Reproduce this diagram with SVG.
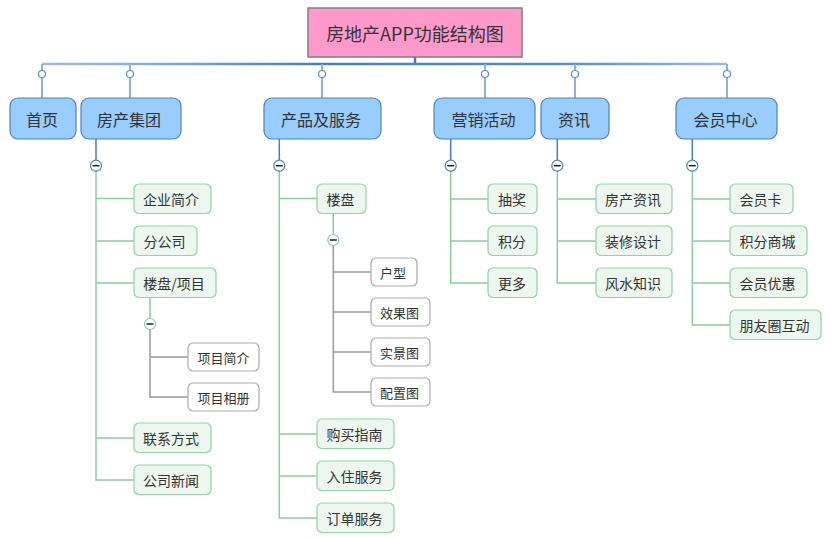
<svg xmlns="http://www.w3.org/2000/svg" width="831" height="538" viewBox="0 0 831 538">
<defs>
<linearGradient id="topg" x1="42" y1="0" x2="727" y2="0" gradientUnits="userSpaceOnUse">
<stop offset="0" stop-color="#9bbadf"/>
<stop offset="0.13" stop-color="#8fb0d8"/>
<stop offset="0.4" stop-color="#4a7ebb"/>
<stop offset="0.75" stop-color="#5a8bc4"/>
<stop offset="1" stop-color="#9bbadf"/>
</linearGradient>
<style>
text{font-family:"Noto Sans CJK SC","Microsoft YaHei",sans-serif;fill:#333;dominant-baseline:central;text-anchor:middle}
.root rect{fill:#ff99cc;stroke:#7f7f7f;stroke-width:1.5}
.root text{font-size:18px}
.l1 rect{fill:#99ccff;stroke:#4f81bd;stroke-width:1.2}
.l1 text{font-size:16px}
.l2 rect{fill:#edf6ef;stroke:#92d3a6;stroke-width:1.2}
.l2 text{font-size:14px}
.l3 rect{fill:#fff;stroke:#ababab;stroke-width:1.2}
.l3 text{font-size:13px}
.stem{stroke:#8fb0d8;stroke-width:2;fill:none}
.blue{stroke:#4a7ebb;stroke-width:1.5;fill:none}
.green{stroke:#8ccc9f;stroke-width:1.5;fill:none}
.gray{stroke:#9a9a9a;stroke-width:1.5;fill:none}
.dot{fill:#fff;stroke:#5b8ec8;stroke-width:1.2}
.cb{fill:#fff;stroke:#4a7ebb;stroke-width:1.2}
.cg{fill:#fff;stroke:#8ccc9f;stroke-width:1.2}
.minus{stroke:#222;stroke-width:1.5}
</style>
</defs>
<g id="connectors">
<line x1="415" y1="57" x2="415" y2="64" stroke="#4a7ebb" stroke-width="2.5"/>
<line x1="42" y1="64" x2="727" y2="64" stroke="url(#topg)" stroke-width="2.5"/>
<line class="stem" x1="42" y1="64" x2="42" y2="98"/>
<line class="stem" x1="130" y1="64" x2="130" y2="98"/>
<line class="stem" x1="322" y1="64" x2="322" y2="98"/>
<line class="stem" x1="485" y1="64" x2="485" y2="98"/>
<line class="stem" x1="575" y1="64" x2="575" y2="98"/>
<line class="stem" x1="727" y1="64" x2="727" y2="98"/>
<circle class="dot" cx="42" cy="74" r="3.5"/>
<circle class="dot" cx="130" cy="74" r="3.5"/>
<circle class="dot" cx="322" cy="74" r="3.5"/>
<circle class="dot" cx="485" cy="74" r="3.5"/>
<circle class="dot" cx="575" cy="74" r="3.5"/>
<circle class="dot" cx="727" cy="74" r="3.5"/>
<!-- 房产集团 -->
<line class="blue" x1="96" y1="139" x2="96" y2="160"/>
<path class="green" d="M96 171V480H134M96 198.5H134M96 241H134M96 283H134M96 438H134"/>
<line class="green" x1="150" y1="298" x2="150" y2="318"/>
<path class="gray" d="M150 330V397H188M150 357H188"/>
<circle class="cb" cx="96" cy="165.7" r="5.5"/><line class="minus" x1="92.5" y1="165.7" x2="99.5" y2="165.7"/>
<circle class="cg" cx="150" cy="324" r="5.5"/><line class="minus" x1="146.5" y1="324" x2="153.5" y2="324"/>
<!-- 产品及服务 -->
<line class="blue" x1="279.3" y1="139" x2="279.3" y2="160"/>
<path class="green" d="M279.3 171V518H317M279.3 198.5H317M279.3 434H317M279.3 476H317"/>
<line class="green" x1="333.3" y1="213" x2="333.3" y2="234.5"/>
<path class="gray" d="M333.3 245.5V392H371M333.3 272H371M333.3 312H371M333.3 352H371"/>
<circle class="cb" cx="279.3" cy="165.7" r="5.5"/><line class="minus" x1="275.8" y1="165.7" x2="282.8" y2="165.7"/>
<circle class="cg" cx="333.3" cy="240" r="5.5"/><line class="minus" x1="329.8" y1="240" x2="336.8" y2="240"/>
<!-- 营销活动 -->
<line class="blue" x1="450.7" y1="139" x2="450.7" y2="160"/>
<path class="green" d="M450.7 171V283H488M450.7 199H488M450.7 241H488"/>
<circle class="cb" cx="450.7" cy="165.7" r="5.5"/><line class="minus" x1="447.2" y1="165.7" x2="454.2" y2="165.7"/>
<!-- 资讯 -->
<line class="blue" x1="557.3" y1="139" x2="557.3" y2="160"/>
<path class="green" d="M557.3 171V283H596M557.3 199H596M557.3 241H596"/>
<circle class="cb" cx="557.3" cy="165.7" r="5.5"/><line class="minus" x1="553.8" y1="165.7" x2="560.8" y2="165.7"/>
<!-- 会员中心 -->
<line class="blue" x1="692.3" y1="139" x2="692.3" y2="160"/>
<path class="green" d="M692.3 171V325H730M692.3 199H730M692.3 241H730M692.3 283H730"/>
<circle class="cb" cx="692.3" cy="165.7" r="5.5"/><line class="minus" x1="688.8" y1="165.7" x2="695.8" y2="165.7"/>
</g>
<g id="root" class="root"><rect x="308" y="8" width="214" height="49"/><text x="415" y="33">房地产APP功能结构图</text></g>
<g id="n-shouye" class="l1"><rect x="10" y="98" width="66" height="41" rx="8"/><text x="42" y="118.5">首页</text></g>
<g id="n-fangchanjituan" class="l1"><rect x="81" y="98" width="100" height="41" rx="8"/><text x="129" y="118.5">房产集团</text></g>
<g id="n-chanpin" class="l1"><rect x="264" y="98" width="117" height="41" rx="8"/><text x="321" y="118.5">产品及服务</text></g>
<g id="n-yingxiao" class="l1"><rect x="434" y="98" width="101" height="41" rx="8"/><text x="483.5" y="118.5">营销活动</text></g>
<g id="n-zixun" class="l1"><rect x="541" y="98" width="68" height="41" rx="8"/><text x="574" y="118.5">资讯</text></g>
<g id="n-huiyuan" class="l1"><rect x="676" y="98" width="101" height="41" rx="8"/><text x="725.5" y="118.5">会员中心</text></g>

<g id="n-qiye" class="l2"><rect x="134" y="184" width="77" height="29.5" rx="5"/><text x="171" y="199">企业简介</text></g>
<g id="n-fengongsi" class="l2"><rect x="134" y="226" width="63" height="29.5" rx="5"/><text x="164.5" y="241">分公司</text></g>
<g id="n-loupanxiangmu" class="l2"><rect x="134" y="268" width="82" height="29.5" rx="5"/><text x="174" y="283">楼盘/项目</text></g>
<g id="n-xmjj" class="l3"><rect x="188" y="343" width="71" height="28" rx="5"/><text x="223.5" y="357">项目简介</text></g>
<g id="n-xmxc" class="l3"><rect x="188" y="383" width="71" height="28" rx="5"/><text x="223.5" y="397">项目相册</text></g>
<g id="n-lianxi" class="l2"><rect x="134" y="423" width="77" height="29.5" rx="5"/><text x="171" y="438">联系方式</text></g>
<g id="n-xinwen" class="l2"><rect x="134" y="465" width="77" height="29.5" rx="5"/><text x="171" y="480">公司新闻</text></g>

<g id="n-loupan" class="l2"><rect x="317" y="184" width="49" height="29.5" rx="5"/><text x="340.5" y="199">楼盘</text></g>
<g id="n-huxing" class="l3"><rect x="371" y="258" width="46" height="28" rx="5"/><text x="393" y="272">户型</text></g>
<g id="n-xiaoguo" class="l3"><rect x="371" y="298" width="59" height="28" rx="5"/><text x="399.5" y="312">效果图</text></g>
<g id="n-shijing" class="l3"><rect x="371" y="338" width="59" height="28" rx="5"/><text x="399.5" y="352">实景图</text></g>
<g id="n-peizhi" class="l3"><rect x="371" y="378" width="59" height="28" rx="5"/><text x="399.5" y="392">配置图</text></g>
<g id="n-goumai" class="l2"><rect x="317" y="419" width="77" height="29.5" rx="5"/><text x="354.5" y="434">购买指南</text></g>
<g id="n-ruzhu" class="l2"><rect x="317" y="461" width="77" height="29.5" rx="5"/><text x="354.5" y="476">入住服务</text></g>
<g id="n-dingdan" class="l2"><rect x="317" y="503" width="77" height="29.5" rx="5"/><text x="354.5" y="518">订单服务</text></g>

<g id="n-choujiang" class="l2"><rect x="488" y="184" width="49" height="29.5" rx="5"/><text x="512" y="199">抽奖</text></g>
<g id="n-jifen" class="l2"><rect x="488" y="226" width="49" height="29.5" rx="5"/><text x="512" y="241">积分</text></g>
<g id="n-gengduo" class="l2"><rect x="488" y="268" width="49" height="29.5" rx="5"/><text x="512" y="283">更多</text></g>

<g id="n-fczx" class="l2"><rect x="596" y="184" width="76" height="29.5" rx="5"/><text x="633" y="199">房产资讯</text></g>
<g id="n-zxsj" class="l2"><rect x="596" y="226" width="76" height="29.5" rx="5"/><text x="633" y="241">装修设计</text></g>
<g id="n-fszs" class="l2"><rect x="596" y="268" width="76" height="29.5" rx="5"/><text x="633" y="283">风水知识</text></g>

<g id="n-hyk" class="l2"><rect x="730" y="184" width="63" height="29.5" rx="5"/><text x="760.5" y="199">会员卡</text></g>
<g id="n-jfsc" class="l2"><rect x="730" y="226" width="77" height="29.5" rx="5"/><text x="767.5" y="241">积分商城</text></g>
<g id="n-hyyh" class="l2"><rect x="730" y="268" width="77" height="29.5" rx="5"/><text x="767.5" y="283">会员优惠</text></g>
<g id="n-pyqhd" class="l2"><rect x="730" y="310" width="91" height="29.5" rx="5"/><text x="774.5" y="325">朋友圈互动</text></g>
</svg>
